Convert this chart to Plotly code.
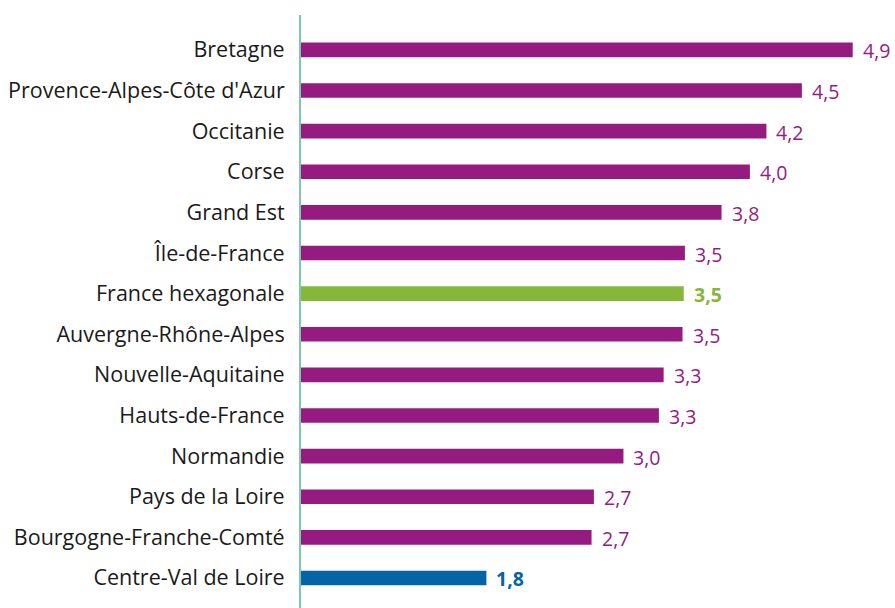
import plotly.graph_objects as go

regions = ["Bretagne", "Provence-Alpes-Côte d'Azur", "Occitanie", "Corse", "Grand Est",
           "Île-de-France", "France hexagonale", "Auvergne-Rhône-Alpes", "Nouvelle-Aquitaine",
           "Hauts-de-France", "Normandie", "Pays de la Loire", "Bourgogne-Franche-Comté",
           "Centre-Val de Loire"]
values = [4.90, 4.47, 4.17, 4.03, 3.79, 3.48, 3.47, 3.46, 3.30, 3.26, 2.96, 2.71, 2.69, 1.80]
labels = ["4,9", "4,5", "4,2", "4,0", "3,8", "3,5", "3,5", "3,5", "3,3", "3,3", "3,0", "2,7", "2,7", "1,8"]

PURPLE = "#951B81"
GREEN = "#86B63A"
BLUE = "#0563A8"
colors = []
for r in regions:
    if r == "France hexagonale":
        colors.append(GREEN)
    elif r == "Centre-Val de Loire":
        colors.append(BLUE)
    else:
        colors.append(PURPLE)

FONT = "Open Sans"

fig = go.Figure(go.Bar(
    x=values, y=list(range(len(regions))), orientation="h",
    marker=dict(color=colors, line=dict(width=0)),
    width=0.36, hoverinfo="skip", cliponaxis=False,
))

for i, (v, lab, c) in enumerate(zip(values, labels, colors)):
    bold = c != PURPLE
    fig.add_annotation(
        x=v, y=i, text=f"<b>{lab}</b>" if bold else lab, showarrow=False,
        xanchor="left", yanchor="middle", xshift=8, yshift=-1,
        font=dict(family=FONT, size=19.5, color=c),
    )

fig.update_layout(
    width=895, height=608,
    margin=dict(l=301, r=0, t=15, b=0),
    paper_bgcolor="white", plot_bgcolor="white",
    showlegend=False,
    xaxis=dict(range=[0.231, 5.258], showgrid=False, zeroline=False,
               showticklabels=False, showline=False),
    yaxis=dict(tickmode="array", tickvals=list(range(len(regions))), ticktext=regions,
               range=[13.74, -0.86], showgrid=False, zeroline=False,
               showline=True, linecolor="#7DC9AA", linewidth=2,
               ticks="", ticklabelstandoff=10,
               tickfont=dict(family=FONT, size=21.5, color="#1a1a1a")),
)

fig.write_html(
    "out.html",
    config={"displayModeBar": False},
    post_script="document.body.style.margin='0';document.body.style.overflow='hidden';",
)
